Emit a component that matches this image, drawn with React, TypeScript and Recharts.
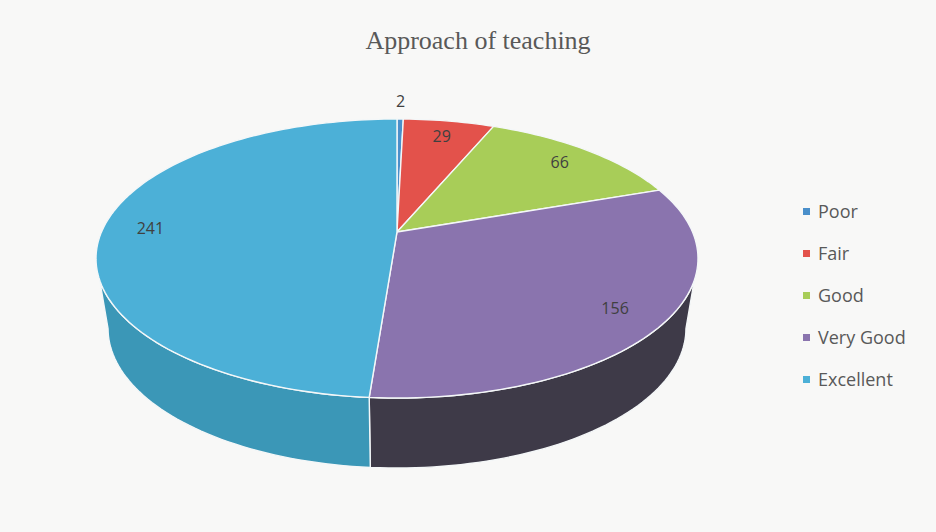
import { PieChart, Pie, Legend } from 'recharts';

// Approach of teaching — 3D pie (Excel style), drawn with a custom sector shape
const categories = ['Poor', 'Fair', 'Good', 'Very Good', 'Excellent'];
const counts = [2, 29, 66, 156, 241];

const topColors = ['#4a8fca', '#e3524b', '#a8cd58', '#8a74ae', '#4cb0d7'];
const sideColors = ['#3b72a2', '#b5413c', '#86a446', '#3e3a48', '#3b97b7'];

const rows = categories.map((name, i) => ({
  name,
  value: counts[i],
  fill: topColors[i],
  side: sideColors[i],
}));

// projection of the flat disc: squash, perspective shift of the centre, thickness
const TILT = 0.4635;
const PERSP = -0.19;
const DEPTH = 0.2326;
const SHRINK = 0.96;

// theta: degrees clockwise from 12 o'clock, frac: fraction of the radius
function project(cx: number, cy: number, r: number, theta: number, frac = 1): [number, number] {
  const t = (theta * Math.PI) / 180;
  const x = frac * Math.sin(t);
  const y = -frac * Math.cos(t);
  const den = 1 + PERSP * y;
  const u = (x * Math.sqrt(1 - PERSP * PERSP)) / den;
  const v = (y + PERSP) / den;
  return [cx + r * u, cy + r * TILT * v];
}

function bottomOf(cx: number, r: number, p: [number, number]): [number, number] {
  return [cx + (p[0] - cx) * SHRINK, p[1] + r * DEPTH];
}

const pt = (p: [number, number]) => `${p[0].toFixed(2)},${p[1].toFixed(2)}`;

function Slice3D(props: any) {
  const { cx, cy, outerRadius, startAngle, endAngle, fill } = props;
  const side = props.side ?? props.payload?.side ?? fill;
  const a0 = 90 - Math.max(startAngle, endAngle);
  const a1 = 90 - Math.min(startAngle, endAngle);

  const n = Math.max(2, Math.ceil((a1 - a0) / 1.5));
  const rim: [number, number][] = [];
  for (let i = 0; i <= n; i++) rim.push(project(cx, cy, outerRadius, a0 + ((a1 - a0) * i) / n));
  const apex = project(cx, cy, outerRadius, 0, 0);
  const topPath = `M${pt(apex)} L${rim.map(pt).join(' L')} Z`;

  // visible side wall: front half of the disc
  const w0 = Math.max(a0, 101);
  const w1 = Math.min(a1, 259);
  let wall = null;
  if (w1 > w0) {
    const m = Math.max(2, Math.ceil((w1 - w0) / 1.5));
    const up: [number, number][] = [];
    for (let i = 0; i <= m; i++) up.push(project(cx, cy, outerRadius, w0 + ((w1 - w0) * i) / m));
    const down = up.map((p) => bottomOf(cx, outerRadius, p)).reverse();
    const wallPath = `M${up.map(pt).join(' L')} L${down.map(pt).join(' L')} Z`;
    wall = <path d={wallPath} fill={side} stroke="#f4f7f8" strokeWidth={1.4} strokeLinejoin="round" />;
  }

  return (
    <g>
      {wall}
      <path d={topPath} fill={fill} stroke="#f4f7f8" strokeWidth={1.4} strokeLinejoin="round" />
    </g>
  );
}

function renderLabel(p: any) {
  const sweep = Math.abs(p.endAngle - p.startAngle);
  const frac = sweep < 8 ? 1.2 : 0.84;
  const [x, y] = project(p.cx, p.cy, p.outerRadius, 90 - p.midAngle, frac);
  return (
    <text
      x={x}
      y={y}
      textAnchor="middle"
      dominantBaseline="central"
      fill="#404040"
      fontSize={16}
      fontFamily="'Open Sans', sans-serif"
    >
      {p.value}
    </text>
  );
}

function LegendList({ payload }: any) {
  const items = [...(payload ?? [])].sort(
    (a: any, b: any) => categories.indexOf(a.value) - categories.indexOf(b.value),
  );
  return (
    <ul style={{ listStyle: 'none', margin: 0, padding: 0 }}>
      {items.map((item: any) => (
        <li
          key={item.value}
          style={{
            display: 'flex',
            alignItems: 'center',
            height: 42,
            fontFamily: "'Open Sans', sans-serif",
            fontSize: 18,
            color: '#595959',
          }}
        >
          <span style={{ display: 'inline-block', width: 7, height: 7, background: item.color, marginRight: 8 }} />
          {item.value}
        </li>
      ))}
    </ul>
  );
}

export default function App() {
  return (
    <div style={{ position: 'absolute', left: 0, top: 0, width: 936, height: 532, background: '#f8f8f7' }}>
      <div
        style={{
          position: 'absolute',
          top: 26,
          left: 0,
          width: 956,
          textAlign: 'center',
          fontFamily: "'Liberation Serif', 'Times New Roman', serif",
          fontSize: 26,
          color: '#595959',
        }}
      >
        Approach of teaching
      </div>
      <PieChart width={936} height={532} margin={{ top: 0, right: 0, bottom: 0, left: 0 }}>
        <Pie
          data={rows}
          dataKey="value"
          nameKey="name"
          cx={397}
          cy={258.5}
          outerRadius={301}
          startAngle={90}
          endAngle={-270}
          stroke="none"
          shape={Slice3D}
          activeShape={Slice3D}
          inactiveShape={Slice3D}
          label={renderLabel}
          labelLine={false}
          isAnimationActive={false}
        />
        <Legend
          layout="vertical"
          align="right"
          verticalAlign="middle"
          content={<LegendList />}
          wrapperStyle={{ left: 803, top: 190, width: 133 }}
        />
      </PieChart>
    </div>
  );
}
